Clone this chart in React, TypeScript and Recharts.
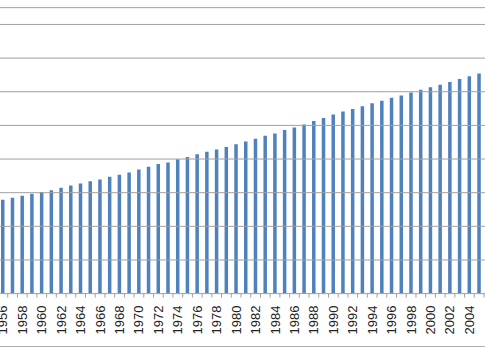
import { Bar, BarChart, ReferenceLine, XAxis, YAxis } from "recharts";

const years = [
  1956, 1957, 1958, 1959, 1960, 1961, 1962, 1963, 1964, 1965,
  1966, 1967, 1968, 1969, 1970, 1971, 1972, 1973, 1974, 1975,
  1976, 1977, 1978, 1979, 1980, 1981, 1982, 1983, 1984, 1985,
  1986, 1987, 1988, 1989, 1990, 1991, 1992, 1993, 1994, 1995,
  1996, 1997, 1998, 1999, 2000, 2001, 2002, 2003, 2004, 2005,
];

const values = [
  27.9, 28.5, 29.1, 29.7, 30.2, 30.7, 31.5, 32.1, 32.7, 33.4,
  33.9, 34.7, 35.3, 36.0, 36.9, 37.7, 38.5, 39.0, 39.9, 40.6,
  41.4, 42.2, 42.8, 43.6, 44.4, 45.2, 46.0, 46.9, 47.6, 48.6,
  49.4, 50.3, 51.3, 52.2, 53.2, 54.1, 54.9, 55.7, 56.6, 57.3,
  58.2, 58.9, 59.8, 60.6, 61.3, 62.1, 62.9, 63.8, 64.6, 65.4,
];

const gridValues = [10, 20, 30, 40, 50, 60, 70, 80, 85];

const data = years.map((year, i) => ({ year: String(year), value: values[i] }));

const YearTick = (props: any) => {
  const { x, y, payload } = props;
  const half = payload && payload.offset ? payload.offset : 4.86;
  const showLabel = Number(payload.value) % 2 === 0;
  return (
    <g>
      <line x1={x + half} x2={x + half} y1={y} y2={y + 4} stroke="#a0a0a0" />
      {showLabel && (
        <text
          transform={`translate(${x},${y + 12}) rotate(-90)`}
          textAnchor="end"
          dominantBaseline="central"
          fontFamily="Liberation Sans, Arial, sans-serif"
          fontSize={13}
          fill="#222"
        >
          {payload.value}
        </text>
      )}
    </g>
  );
};

const App = () => {
  return (
    <div
      style={{
        width: 485,
        height: 360,
        overflow: "hidden",
        position: "relative",
        background: "#fff",
      }}
    >
      <style>{"body { margin: 0; }"}</style>
      <div style={{ position: "absolute", left: -22.4, top: -25.6 }}>
        <BarChart
          width={526}
          height={386}
          data={data}
          margin={{ top: 0, right: 0, left: 0, bottom: 0 }}
        >
          <YAxis hide domain={[0, 95]} allowDataOverflow />
          <XAxis
            dataKey="year"
            interval={0}
            height={66.4}
            padding={{ left: 20, right: 20 }}
            tickSize={0}
            tickMargin={0}
            tickLine={false}
            axisLine={{ stroke: "#a0a0a0" }}
            tick={<YearTick />}
          />
          {gridValues.map((v) => (
            <ReferenceLine key={v} y={v} stroke="#a0a0a0" />
          ))}
          <Bar
            dataKey="value"
            fill="#4F81BD"
            barSize={3.5}
            isAnimationActive={false}
          />
        </BarChart>
      </div>
      <div
        style={{
          position: "absolute",
          left: 0,
          right: 0,
          top: 346,
          borderTop: "1px solid #b0b0b0",
        }}
      />
    </div>
  );
};

export default App;
